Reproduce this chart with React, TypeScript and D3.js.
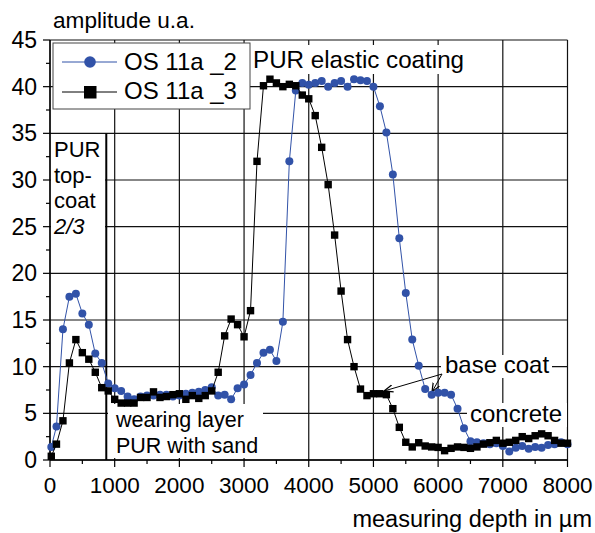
import React from "react";
import * as d3 from "d3";

const W = 595;
const H = 533;

const xTicks = [0, 1000, 2000, 3000, 4000, 5000, 6000, 7000, 8000];
const yTicks = [0, 5, 10, 15, 20, 25, 30, 35, 40, 45];

const depth2 = [20,100,200,300,400,500,600,700,800,900,1000,1100,1200,1300,1400,1500,1600,1700,1800,1900,2000,2100,2200,2300,2400,2500,2600,2700,2800,2900,3000,3100,3200,3300,3400,3500,3600,3700,3800,3900,4000,4100,4200,4300,4400,4500,4600,4700,4800,4900,5000,5100,5200,5300,5400,5500,5600,5700,5800,5900,6000,6100,6200,6300,6400,6500,6600,6700,6800,6900,7000,7100,7200,7300,7400,7500,7600,7700,7800,7900,8000];
const amp2 = [1.4,3.6,14.0,17.5,17.8,15.7,14.5,11.4,10.4,8.2,7.7,7.4,6.8,6.5,6.8,6.9,6.9,7.0,7.0,6.8,6.9,7.1,7.2,7.3,7.5,7.8,6.9,7.0,6.5,7.7,8.1,9.1,10.4,11.5,11.8,10.6,14.8,32.0,39.6,40.4,40.2,40.4,40.6,40.0,40.4,40.6,40.0,40.8,40.7,40.6,40.0,37.9,35.1,30.6,23.75,17.9,12.9,10.1,7.6,7.0,7.2,7.2,7.0,5.5,3.4,2.0,1.9,1.8,1.7,1.8,1.5,0.9,1.3,1.5,1.2,1.4,1.3,1.6,1.7,1.9,1.7];

const depth3 = [20,100,200,300,400,500,600,700,800,900,1000,1100,1200,1300,1400,1500,1600,1700,1800,1900,2000,2100,2200,2300,2400,2500,2600,2700,2800,2900,3000,3100,3200,3300,3400,3500,3600,3700,3800,3900,4000,4100,4200,4300,4400,4500,4600,4700,4800,4900,5000,5100,5200,5300,5400,5500,5600,5700,5800,5900,6000,6100,6200,6300,6400,6500,6600,6700,6800,6900,7000,7100,7200,7300,7400,7500,7600,7700,7800,7900,8000];
const amp3 = [0.4,1.7,4.2,10.4,12.9,11.5,10.8,9.4,7.75,7.4,6.5,6.1,6.1,6.1,6.7,6.7,7.3,6.7,6.8,7.0,7.1,6.5,6.9,6.6,6.9,7.4,9.4,13.3,15.1,14.5,13.2,16.0,32.0,40.1,40.8,40.4,40.0,40.25,40.1,39.1,38.7,36.9,33.5,29.5,24.1,18.1,12.9,10.0,7.6,6.9,7.1,7.1,7.0,5.5,3.5,1.9,1.4,1.85,1.5,1.4,1.35,1.0,1.25,1.4,1.35,1.25,1.4,1.7,1.85,2.1,1.8,1.9,2.1,2.5,2.3,2.6,2.8,2.6,2.1,1.8,1.8];

const seriesNames = ["OS 11a _2", "OS 11a _3"];
const BLUE = "#3152a8";
const FONT = "'Liberation Sans', Arial, sans-serif";

export default function App() {
  const x = d3.scaleLinear().domain([0, 8000]).range([50, 567.5]);
  const y = d3.scaleLinear().domain([0, 45]).range([460, 40]);
  const line = d3.line<[number, number]>().x((d) => x(d[0])).y((d) => y(d[1]));
  const s2: [number, number][] = depth2.map((d, i) => [d, amp2[i]]);
  const s3: [number, number][] = depth3.map((d, i) => [d, amp3[i]]);
  const xMinor = d3.range(500, 8000, 1000);
  const yMinor = d3.range(2.5, 45, 5);

  return (
    <svg width={W} height={H} style={{ position: "absolute", left: 0, top: 0, background: "#fff" }} fontFamily={FONT}>
      <defs>
        <marker id="ah" viewBox="0 0 10 10" refX="10" refY="5" markerWidth="9" markerHeight="9" orient="auto" markerUnits="userSpaceOnUse">
          <path d="M0,1 L10,5 L0,9" fill="none" stroke="#000" strokeWidth="1.4" />
        </marker>
      </defs>
      {/* grid */}
      {xTicks.map((t) => (
        <line key={"gx" + t} x1={x(t)} x2={x(t)} y1={y(45)} y2={y(0)} stroke="#111" strokeWidth={1.2} />
      ))}
      {yTicks.map((t) => (
        <line key={"gy" + t} x1={x(0)} x2={x(8000)} y1={y(t)} y2={y(t)} stroke="#111" strokeWidth={1.2} />
      ))}
      {/* axes */}
      <line x1={x(0)} x2={x(0)} y1={y(45)} y2={y(0)} stroke="#000" strokeWidth={1.3} />
      <line x1={x(0)} x2={x(8000)} y1={y(0)} y2={y(0)} stroke="#000" strokeWidth={1.3} />
      {yTicks.map((t) => (
        <g key={"yt" + t}>
          <line x1={x(0) - 7} x2={x(0)} y1={y(t)} y2={y(t)} stroke="#000" strokeWidth={1.2} />
          <text x={37} y={y(t) + 8} fontSize={23} textAnchor="end" fill="#000">{t}</text>
        </g>
      ))}
      {yMinor.map((t) => (
        <line key={"ym" + t} x1={x(0) - 4} x2={x(0)} y1={y(t)} y2={y(t)} stroke="#000" strokeWidth={1.2} />
      ))}
      {xTicks.map((t) => (
        <g key={"xt" + t}>
          <line x1={x(t)} x2={x(t)} y1={y(0)} y2={y(0) + 7} stroke="#000" strokeWidth={1.2} />
          <text x={x(t)} y={493} fontSize={22.5} textAnchor="middle" fill="#000">{t}</text>
        </g>
      ))}
      {xMinor.map((t) => (
        <line key={"xm" + t} x1={x(t)} x2={x(t)} y1={y(0)} y2={y(0) + 4} stroke="#000" strokeWidth={1.2} />
      ))}
      <text x={53} y={28} fontSize={22.6} fill="#000">amplitude u.a.</text>
      <text x={592} y={527} fontSize={23.5} textAnchor="end" fill="#000">measuring depth in µm</text>

      {/* annotation boxes */}
      <rect x={51} y={136} width={54} height={112} fill="#fff" />
      <text fontSize={22} fill="#000">
        <tspan x={54} y={157}>PUR</tspan>
        <tspan x={54} y={183}>top-</tspan>
        <tspan x={54} y={208}>coat</tspan>
        <tspan x={54} y={234} fontStyle="italic">2/3</tspan>
      </text>
      <line x1={x(870)} x2={x(870)} y1={y(35)} y2={y(0)} stroke="#000" strokeWidth={2} />

      <rect x={108} y={404} width={155} height={54} fill="#fff" />
      <text fontSize={21.5} fill="#000">
        <tspan x={116} y={427}>wearing layer</tspan>
        <tspan x={116} y={453}>PUR with sand</tspan>
      </text>

      <rect x={250} y={45} width={220} height={29} fill="#fff" />
      <text x={253} y={68} fontSize={24.2} fill="#000">PUR elastic coating</text>

      <rect x={441} y={355} width={111} height={23} fill="#fff" />
      <text x={445} y={373} fontSize={24} fill="#000">base coat</text>
      <line x1={442} y1={374} x2={384} y2={391} stroke="#000" strokeWidth={1} markerEnd="url(#ah)" />
      <line x1={442} y1={374} x2={432} y2={392} stroke="#000" strokeWidth={1} markerEnd="url(#ah)" />

      <rect x={467} y={403} width={100} height={24} fill="#fff" />
      <text x={470} y={422} fontSize={24} fill="#000">concrete</text>

      {/* series */}
      <path d={line(s2) || ""} fill="none" stroke={BLUE} strokeWidth={1} />
      {s2.map((d, i) => (
        <circle key={"c" + i} cx={x(d[0])} cy={y(d[1])} r={4} fill={BLUE} />
      ))}
      <path d={line(s3) || ""} fill="none" stroke="#000" strokeWidth={1} />
      {s3.map((d, i) => (
        <rect key={"s" + i} x={x(d[0]) - 3.7} y={y(d[1]) - 3.7} width={7.4} height={7.4} fill="#000" />
      ))}

      {/* legend */}
      <rect x={53} y={43} width={197} height={66} fill="#fff" stroke="#444" strokeWidth={1} />
      <line x1={62} x2={117} y1={62} y2={62} stroke={BLUE} strokeWidth={1} />
      <circle cx={90} cy={62} r={5.8} fill={BLUE} />
      <text x={124} y={70} fontSize={24} fill="#000">{seriesNames[0]}</text>
      <line x1={62} x2={117} y1={92} y2={92} stroke="#000" strokeWidth={1} />
      <rect x={84} y={86} width={12.5} height={12.5} fill="#000" />
      <text x={124} y={99} fontSize={24} fill="#000">{seriesNames[1]}</text>
    </svg>
  );
}
